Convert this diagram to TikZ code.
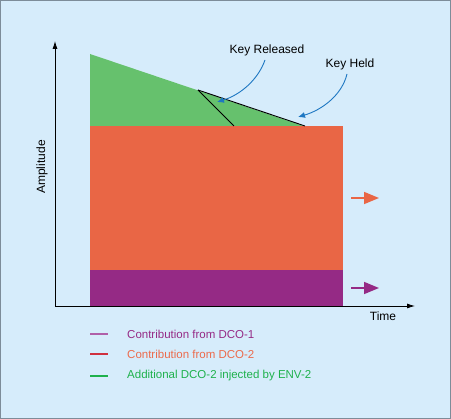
\documentclass[tikz,border=0pt]{standalone}
\usepackage{fontspec}
\setmainfont{Liberation Sans}
\usetikzlibrary{arrows.meta}
\definecolor{bg}{HTML}{D6ECFB}
\definecolor{frame}{HTML}{7D8C99}
\definecolor{envgreen}{HTML}{66C16D}
\definecolor{dcoorange}{HTML}{E96645}
\definecolor{dcopurple}{HTML}{952A85}
\definecolor{arrowblue}{HTML}{1E77C2}
\definecolor{legpurple}{HTML}{B060A8}
\definecolor{legred}{HTML}{D0303F}
\definecolor{leggreen}{HTML}{1EB14C}
\definecolor{txtorange}{HTML}{EC6A4C}
\tikzset{
  lbl/.style={font=\fontsize{12}{14}\selectfont, inner sep=0pt},
  leglbl/.style={font=\fontsize{11.5}{14}\selectfont, inner sep=0pt, anchor=west},
  callout/.style={draw=arrowblue, line width=0.9pt, -{Latex[length=7pt,width=6pt]}},
  axis/.style={draw=black, line width=0.8pt, -{Latex[length=8pt,width=5pt]}},
  envline/.style={draw=black, line width=0.9pt},
  flowarrow/.style={line width=1.6pt, -{Triangle[length=15pt,width=12pt]}},
  legline/.style={line width=1.2pt},
}
\begin{document}
\begin{tikzpicture}[x=1pt,y=-1pt]
\useasboundingbox (0,0) rectangle (451,419);
\fill[bg] (0,0) rectangle (451,419);
\draw[frame, line width=1.2pt] (0.6,0.6) rectangle (450.4,418.4);
% areas
\fill[envgreen] (90,54) -- (305,126.5) -- (90,126.5) -- cycle;
\fill[dcoorange] (90,126) rectangle (343,270);
\fill[dcopurple] (90,270) rectangle (343,306);
% envelope lines
\coordinate (rel) at (198,90);
\coordinate (relend) at (234,126);
\coordinate (heldend) at (305,126);
\draw[envline] (rel) -- (heldend);
\draw[envline] (rel) -- (relend);
% axes
\coordinate (origin) at (55,306);
\coordinate (ytip) at (55,41);
\coordinate (xtip) at (415,306);
\draw[axis] (origin) -- (ytip);
\draw[axis] (origin) -- (xtip);
\node[lbl, rotate=90] (amp) at (42,167) {Amplitude};
\node[lbl] (time) at (383,316) {Time};
% labels and callouts
\node[lbl] (krel) at (267,50) {Key Released};
\node[lbl] (kheld) at (350,64) {Key Held};
\coordinate (krelp) at (217,102);
\coordinate (kheldp) at (298,117);
\draw[callout] (265,60) .. controls (258,80) and (240,95) .. (krelp);
\draw[callout] (347,74) .. controls (342,95) and (322,110) .. (kheldp);
% flow arrows
\coordinate (oa) at (351,198);
\coordinate (ob) at (379,198);
\coordinate (pa) at (351,288);
\coordinate (pb) at (379,288);
\draw[flowarrow, dcoorange] (oa) -- (ob);
\draw[flowarrow, dcopurple] (pa) -- (pb);
% legend
\draw[legline, legpurple] (90,334) -- (108,334);
\draw[legline, legred] (90,354) -- (108,354);
\draw[legline, leggreen] (90,376) -- (108,376);
\node[leglbl, text=dcopurple] (l1) at (127,334) {Contribution from DCO-1};
\node[leglbl, text=txtorange] (l2) at (127,354) {Contribution from DCO-2};
\node[leglbl, text=leggreen] (l3) at (127,376) {Additional DCO-2 injected by ENV-2};
\end{tikzpicture}
\end{document}
